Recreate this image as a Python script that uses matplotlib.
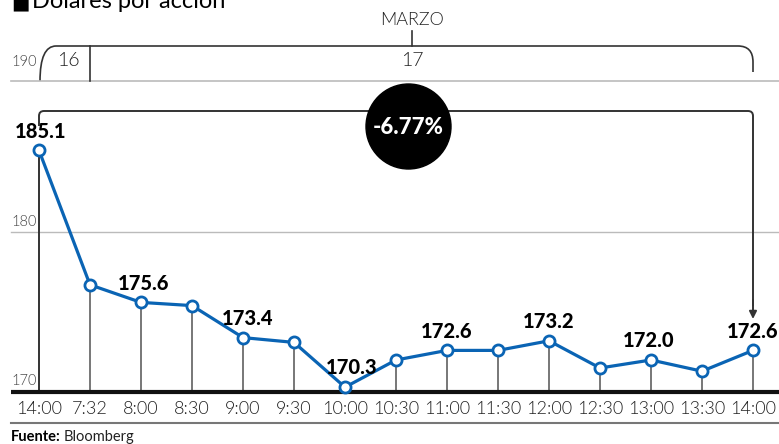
import numpy as np
import matplotlib
matplotlib.use("Agg")
import matplotlib.pyplot as plt
from matplotlib.path import Path
from matplotlib.patches import PathPatch, Ellipse

# datos
horas = ["14:00", "7:32", "8:00", "8:30", "9:00", "9:30", "10:00", "10:30",
         "11:00", "11:30", "12:00", "12:30", "13:00", "13:30", "14:00"]
precio = [185.1, 176.7, 175.6, 175.4, 173.4, 173.1, 170.3, 172.0,
          172.6, 172.6, 173.2, 171.5, 172.0, 171.3, 172.6]
etiquetas = {0: "185.1", 2: "175.6", 4: "173.4", 6: "170.3", 8: "172.6",
             10: "173.2", 12: "172.0", 14: "172.6"}
y_ticks = {190: 62, 180: 222, 170: 381}
variacion = "-6.77%"

W, H = 779, 444
AZUL = "#0a64b4"
LIGERA = 300
plt.rcParams['font.family'] = ['Lato', 'DejaVu Sans']

fig = plt.figure(figsize=(W / 100, H / 100), dpi=100)
ax = fig.add_axes([0, 0, 1, 1])
ax.set_xlim(-39 / 51, 740 / 51)
ax.set_ylim(170 - 52 / 16, 170 + 392 / 16)
ax.axis("off")

T = fig.transFigure


def P(x, y):
    # pixeles (origen arriba-izquierda) -> coordenadas de figura
    return (x / W, 1 - y / H)


x = np.arange(len(precio))
x_izq = -28 / 51

# lineas horizontales
ax.plot([x_izq, 740 / 51], [180, 180], color="#bbbbbb", lw=1, zorder=1)
fig.add_artist(plt.Line2D([11 / W, 1], [1 - 81 / H] * 2, color="#bbbbbb", lw=1.2))
fig.add_artist(plt.Line2D([11 / W, 1], [1 - 423 / H] * 2, color="#777777", lw=1.5))
ax.plot([x_izq, 740 / 51], [170, 170], color="#111111", lw=3, zorder=3,
        solid_capstyle="butt")

# tallos verticales
for i, v in enumerate(precio):
    c = "#333333" if i == 0 else "#777777"
    ax.plot([i, i], [170, v], color=c, lw=1.4, zorder=2)

# corchete superior con flecha (empieza encima de la etiqueta 185.1)
top = 111
xa, xb = 39, 753
verts = [P(xa, 126), P(xa, top + 5), P(xa, top), P(xa + 5, top), P(xb - 5, top),
         P(xb, top), P(xb, top + 5), P(xb, 306)]
codes = [Path.MOVETO, Path.LINETO, Path.CURVE3, Path.CURVE3, Path.LINETO,
         Path.CURVE3, Path.CURVE3, Path.LINETO]
fig.add_artist(PathPatch(Path(verts, codes), fill=False, ec="#333333", lw=1.4,
                         transform=T, zorder=1))
ax.annotate("", xy=P(xb, 319), xytext=P(xb, 300), xycoords=T, textcoords=T,
            arrowprops=dict(arrowstyle="-|>", color="#333333", lw=1.4,
                            mutation_scale=11, shrinkA=0, shrinkB=0))

# circulo con variacion
e = Ellipse(P(408.5, 126.5), 85 / W, 85 / H, transform=T, color="black", zorder=5)
fig.add_artist(e)
fig.text(*P(408.5, 127), variacion, color="white", fontsize=16, fontweight="black",
         ha="center", va="center", zorder=6)

# serie
ax.plot(x, precio, color=AZUL, lw=2.3, zorder=4, marker="o", markersize=8,
        markerfacecolor="white", markeredgecolor=AZUL, markeredgewidth=2)
desplaza = {0: 1, 2: 2, 4: 3, 6: 5, 12: -2}
for i, t in etiquetas.items():
    ax.annotate(t, (x[i], precio[i]), xytext=(desplaza.get(i, 0), 7),
                textcoords="offset points", ha="center", va="bottom",
                fontsize=14.5, fontweight="black", color="black", zorder=6)

# etiquetas del eje x
for i, h in enumerate(horas):
    ax.text(x[i], 170 - 17 / 16, h, ha="center", va="center",
            fontsize=13, fontweight=LIGERA, color="#222222")

# etiquetas del eje y
for v, yp in y_ticks.items():
    fig.text(*P(11, yp), str(v), fontsize=10.5, color="#444444", va="center",
             fontweight=LIGERA)

# banda de fechas
verts = [P(40, 81), P(40, 46), P(56, 46), P(738, 46), P(753, 46), P(753, 62), P(753, 72)]
codes = [Path.MOVETO, Path.CURVE3, Path.CURVE3, Path.LINETO, Path.CURVE3, Path.CURVE3,
         Path.LINETO]
fig.add_artist(PathPatch(Path(verts, codes), fill=False, ec="#333333", lw=1.2,
                         transform=T))
fig.add_artist(plt.Line2D([90 / W] * 2, [1 - 46 / H, 1 - 81 / H], color="#333333", lw=1.2))
fig.add_artist(plt.Line2D([412 / W] * 2, [1 - 31 / H, 1 - 46 / H], color="#333333", lw=1.2))
fig.text(*P(412, 20), "MARZO", fontsize=13, fontweight=LIGERA, ha="center", va="center",
         color="#222222")
fig.text(*P(68, 61), "16", fontsize=14, fontweight=LIGERA, ha="center", va="center",
         color="#222222")
fig.text(*P(412, 61), "17", fontsize=14, fontweight=LIGERA, ha="center", va="center",
         color="#222222")

# titulo cortado y fuente
fig.text(*P(11, 8), "\u25a0", fontsize=14, va="baseline", color="black")
fig.text(*P(32, 8), "Dolares por acción", fontsize=17, va="baseline", color="black")
fig.text(*P(11, 437), "Fuente:", fontsize=10.5, fontweight="bold", va="center")
fig.text(*P(64, 437), "Bloomberg", fontsize=10.5, va="center", color="#222222")

fig.savefig("out.png", dpi=100)
